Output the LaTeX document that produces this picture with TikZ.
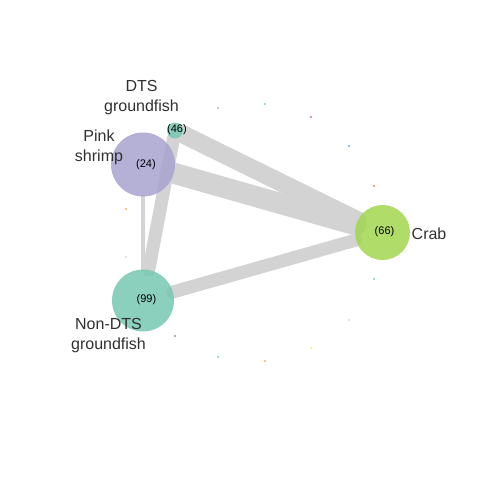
\documentclass[tikz,border=0pt]{standalone}
\usepackage{fontspec}
\setmainfont{Liberation Sans}
\usetikzlibrary{backgrounds}
\definecolor{shrimpc}{RGB}{167,162,207}
\definecolor{tealc}{RGB}{117,200,178}
\definecolor{crabc}{RGB}{162,214,80}
\definecolor{edgec}{RGB}{211,211,211}
\definecolor{labc}{RGB}{48,48,48}
\definecolor{dlav}{HTML}{BEBADA}
\definecolor{dteal}{HTML}{8DD3C7}
\definecolor{dpurp}{HTML}{BC80BD}
\definecolor{dblue}{HTML}{80B1D3}
\definecolor{dred}{HTML}{FB8072}
\definecolor{dorange}{HTML}{FDB462}
\definecolor{dgreen}{HTML}{CCEBC5}
\definecolor{dyellow}{HTML}{FFED6F}
\definecolor{dpink}{HTML}{FCCDE5}
\tikzset{
  vert/.style={circle, inner sep=0pt, draw=none, fill opacity=0.85},
  num/.style={inner sep=0pt, font=\fontsize{11}{13}\selectfont, text=black},
  lab/.style={inner sep=0pt, align=center, font=\fontsize{16}{20}\selectfont, text=labc},
  edge/.style={draw=edgec, line cap=round},
  dot/.style={rectangle, inner sep=0pt, minimum size=2pt, draw=none, opacity=0.8},
}
\begin{document}
\begin{tikzpicture}[x=1pt,y=-1pt]
\useasboundingbox (0,0) rectangle (480,480);
\node[vert, fill=shrimpc, minimum size=64pt] (shrimp) at (143,164.5) {};
\node[vert, fill=tealc, minimum size=16pt] (dts) at (175,130.5) {};
\node[vert, fill=tealc, minimum size=62pt] (nondts) at (143,300.5) {};
\node[vert, fill=crabc, minimum size=55pt] (crab) at (382.5,232.5) {};
\begin{pgfonlayer}{background}
\draw[edge, line width=21pt] (shrimp) -- (crab);
\draw[edge, line width=18pt] (dts) -- (crab);
\draw[edge, line width=13pt] (dts) -- (nondts);
\draw[edge, line width=13pt] (nondts) -- (crab);
\draw[edge, line width=4pt] (shrimp) -- (nondts);
\end{pgfonlayer}
\node[num] (nshrimp) at (146,165) {(24)};
\node[num] (ndts) at (177,129.5) {(46)};
\node[num] (nnondts) at (146.5,300) {(99)};
\node[num] (ncrab) at (384.5,232) {(66)};
\node[lab] (lshrimp) at (99,147) {Pink\\shrimp};
\node[lab] (ldts) at (141.5,97.5) {DTS\\groundfish};
\node[lab] (lnondts) at (108.5,335.5) {Non-DTS\\groundfish};
\node[lab, anchor=west] (lcrab) at (411.5,233.5) {Crab};
\node[dot, fill=dlav] (d1) at (217.7,108.3) {};
\node[dot, fill=dteal] (d2) at (265,104) {};
\node[dot, fill=dpurp] (d3) at (311,116.7) {};
\node[dot, fill=dblue] (d4) at (349,145.7) {};
\node[dot, fill=dred] (d5) at (374,186) {};
\node[dot, fill=dorange] (d6) at (125.7,209) {};
\node[dot, fill=dgreen] (d7) at (125.7,256.5) {};
\node[dot, fill=dpurp] (d8) at (175,336) {};
\node[dot, fill=dteal] (d9) at (217.7,357) {};
\node[dot, fill=dorange] (d10) at (265.3,361.3) {};
\node[dot, fill=dyellow] (d11) at (310.7,348.3) {};
\node[dot, fill=dpink] (d12) at (349,320) {};
\node[dot, fill=dteal] (d13) at (374,279.3) {};
\end{tikzpicture}
\end{document}
